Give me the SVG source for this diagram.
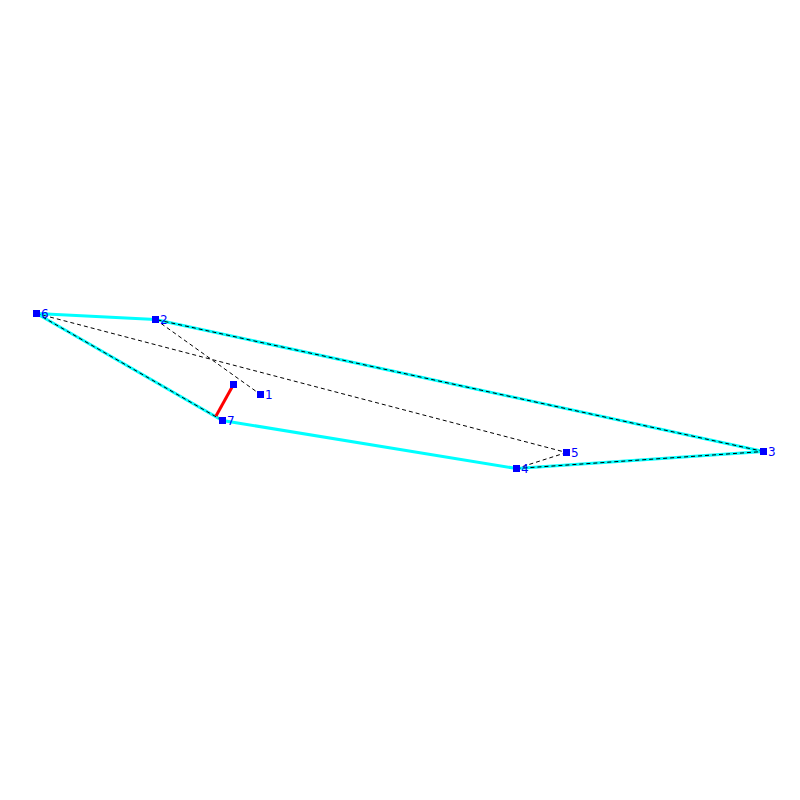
<svg xmlns="http://www.w3.org/2000/svg" width="800" height="800" viewBox="0 0 800 800">
<style>
.hull{stroke:#00ffff;stroke-width:3;fill:none}
.dash{stroke:#000;stroke-width:1;stroke-dasharray:4,3;fill:none}
.red{stroke:#ff0000;stroke-width:3}
.n rect{fill:#0000ff}
.n text{fill:#0000ff;font-family:"DejaVu Sans",sans-serif;font-size:12px}
</style>
<rect width="800" height="800" fill="#fff"/>
<g id="connectors">
<polygon class="hull" points="36.5,313.5 155.5,319.5 763.5,451.5 516.5,468.5 222.5,420.5"/>
<line class="dash" x1="155.5" y1="319.5" x2="260.5" y2="394.5"/>
<line class="dash" x1="36.5" y1="313.5" x2="566.5" y2="452.5"/>
<line class="dash" x1="566.5" y1="452.5" x2="516.5" y2="468.5"/>
<line class="dash" x1="516.5" y1="468.5" x2="763.5" y2="451.5"/>
<line class="dash" x1="763.5" y1="451.5" x2="155.5" y2="319.5"/>
<line class="dash" x1="36.5" y1="313.5" x2="222.5" y2="420.5"/>
<line class="red" x1="233.5" y1="384.5" x2="216" y2="416"/>
</g>
<g id="n6" class="n"><rect x="33" y="310" width="7" height="7"/><text x="41" y="318">6</text></g>
<g id="n2" class="n"><rect x="152" y="316" width="7" height="7"/><text x="160" y="324">2</text></g>
<g id="n0" class="n"><rect x="230" y="381" width="7" height="7"/></g>
<g id="n1" class="n"><rect x="257" y="391" width="7" height="7"/><text x="265" y="399">1</text></g>
<g id="n7" class="n"><rect x="219" y="417" width="7" height="7"/><text x="227" y="425">7</text></g>
<g id="n5" class="n"><rect x="563" y="449" width="7" height="7"/><text x="571" y="457">5</text></g>
<g id="n4" class="n"><rect x="513" y="465" width="7" height="7"/><text x="521" y="473">4</text></g>
<g id="n3" class="n"><rect x="760" y="448" width="7" height="7"/><text x="768" y="456">3</text></g>
</svg>
